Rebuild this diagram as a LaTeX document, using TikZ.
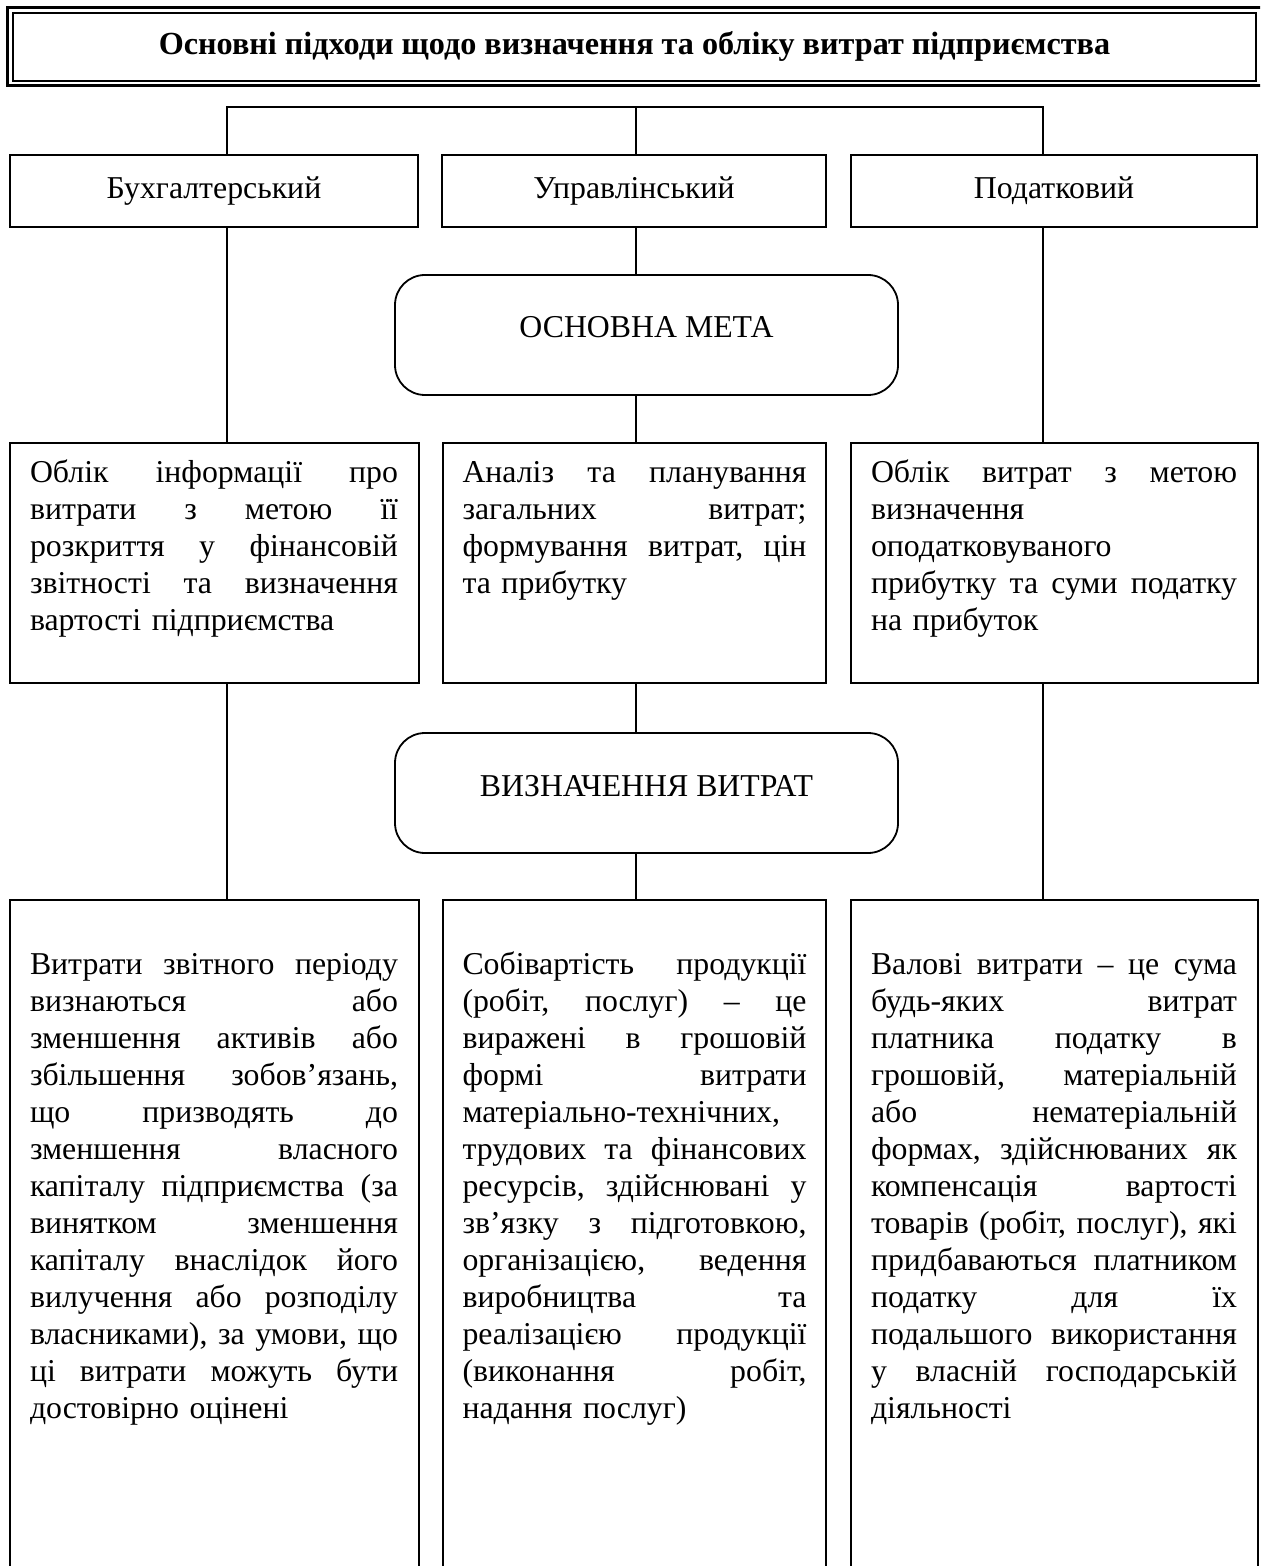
\documentclass[tikz,border=0pt]{standalone}
\usepackage{fontspec}
\setmainfont{Liberation Serif}
\frenchspacing
% one fully justified line of a paragraph: the interword glue is made stretchable
\newcommand{\jl}[1]{\leavevmode\hbox to \linewidth{\spaceskip=0.25em plus 10em minus 0.06em\relax #1}}
\begin{document}
\begin{tikzpicture}[x=0.5pt,y=-0.5pt,
  txt/.style={font=\fontsize{15.9}{18.5}\selectfont},
  box/.style={draw, line width=0.9pt, rectangle, inner sep=0pt, txt,
    text height=11pt, text depth=3.7pt},
  frame/.style={draw, line width=0.9pt, rectangle, inner sep=0pt},
  rbox/.style={draw, line width=0.9pt, rounded corners=15pt, inner sep=0pt,
    minimum width=251.5pt, minimum height=60pt},
  link/.style={line width=0.9pt},
  para/.style={txt, anchor=north west, inner sep=0pt, align=left},
  caption/.style={txt, anchor=base, inner sep=0pt},
]
\useasboundingbox (0,0) rectangle (1260,1566);
\clip (0,0) rectangle (1260,1566);

% title with a double frame
\node[draw, line width=1.5pt, minimum width=628pt, minimum height=39pt, inner sep=0pt]
  (titleframe) at (635,47) {};
\node[draw, line width=1pt, minimum width=621.5pt, minimum height=34pt, inner sep=0pt,
  font=\fontsize{16.1}{18}\selectfont\bfseries, text height=11pt, text depth=3.7pt]
  (title) at (634.5,47) {Основні підходи щодо визначення та обліку витрат підприємства};

% three approaches
\node[box, minimum width=204pt, minimum height=36pt] (b1) at (214,191) {Бухгалтерський};
\node[box, minimum width=192pt, minimum height=36pt] (b2) at (634,191) {Управлінський};
\node[box, minimum width=203pt, minimum height=36pt] (b3) at (1054,191) {Податковий};

% branching bus above the approaches
\coordinate (busL) at (227,107);
\coordinate (busM) at (636,107);
\coordinate (busR) at (1043,107);
\draw[link] (busL |- b1.north) -- (busL) -- (busR) -- (busR |- b3.north);
\draw[link] (busM) -- (busM |- b2.north);

% main aim
\node[rbox] (aim) at (646.5,335) {};
\node[caption] (aimt) at ([yshift=-1.5pt]aim.center) {ОСНОВНА МЕТА};

% aims of each approach
\node[frame, minimum width=204.5pt, minimum height=120pt] (m1) at (214.5,563) {};
\node[frame, minimum width=191.5pt, minimum height=120pt] (m2) at (634.5,563) {};
\node[frame, minimum width=203.5pt, minimum height=120pt] (m3) at (1054.5,563) {};

\node[para, text width=184pt] (m1t) at ([shift={(10.25pt,-7pt)}]m1.north west) {%
\jl{\strut Облік інформації про}\\
\jl{витрати з метою її}\\
\jl{розкриття у фінансовій}\\
\jl{звітності та визначення}\\
вартості підприємства};
\node[para, text width=172pt] (m2t) at ([shift={(10pt,-7pt)}]m2.north west) {%
\jl{\strut Аналіз та планування}\\
\jl{загальних витрат;}\\
\jl{формування витрат, цін}\\
та прибутку};
\node[para, text width=183pt] (m3t) at ([shift={(10.25pt,-7pt)}]m3.north west) {%
\jl{\strut Облік витрат з метою}\\
визначення\\
оподатковуваного\\
\jl{прибутку та суми податку}\\
на прибуток};

% definition of costs
\node[rbox] (def) at (646.5,793) {};
\node[caption] (deft) at ([yshift=-1.5pt]def.center) {ВИЗНАЧЕННЯ ВИТРАТ};

% definitions of each approach (boxes run past the lower edge)
\node[frame, minimum width=204.5pt, minimum height=360pt] (n1) at (214.5,1260) {};
\node[frame, minimum width=191.5pt, minimum height=360pt] (n2) at (634.5,1260) {};
\node[frame, minimum width=203.5pt, minimum height=360pt] (n3) at (1054.5,1260) {};

\node[para, text width=184pt] (n1t) at ([shift={(10.25pt,-24.5pt)}]n1.north west) {%
\jl{\strut Витрати звітного періоду}\\
\jl{визнаються або}\\
\jl{зменшення активів або}\\
\jl{збільшення зобов’язань,}\\
\jl{що призводять до}\\
\jl{зменшення власного}\\
\jl{капіталу підприємства (за}\\
\jl{винятком зменшення}\\
\jl{капіталу внаслідок його}\\
\jl{вилучення або розподілу}\\
\jl{власниками), за умови, що}\\
\jl{ці витрати можуть бути}\\
достовірно оцінені};
\node[para, text width=172pt] (n2t) at ([shift={(10pt,-24.5pt)}]n2.north west) {%
\jl{\strut Собівартість продукції}\\
\jl{(робіт, послуг) – це}\\
\jl{виражені в грошовій}\\
\jl{формі витрати}\\
матеріально-технічних,\\
\jl{трудових та фінансових}\\
\jl{ресурсів, здійснювані у}\\
\jl{зв’язку з підготовкою,}\\
\jl{організацією, ведення}\\
\jl{виробництва та}\\
\jl{реалізацією продукції}\\
\jl{(виконання робіт,}\\
надання послуг)};
\node[para, text width=183pt] (n3t) at ([shift={(10.25pt,-24.5pt)}]n3.north west) {%
\jl{\strut Валові витрати – це сума}\\
\jl{будь-яких витрат}\\
\jl{платника податку в}\\
\jl{грошовій, матеріальній}\\
\jl{або нематеріальній}\\
\jl{формах, здійснюваних як}\\
\jl{компенсація вартості}\\
\jl{товарів (робіт, послуг), які}\\
\jl{придбаваються платником}\\
\jl{податку для їх}\\
\jl{подальшого використання}\\
\jl{у власній господарській}\\
діяльності};

% connectors
\draw[link] (busL |- b1.south) -- (busL |- m1.north);
\draw[link] (busM |- b2.south) -- (busM |- aim.north);
\draw[link] (busM |- aim.south) -- (busM |- m2.north);
\draw[link] (busR |- b3.south) -- (busR |- m3.north);
\draw[link] (busL |- m1.south) -- (busL |- n1.north);
\draw[link] (busM |- m2.south) -- (busM |- def.north);
\draw[link] (busM |- def.south) -- (busM |- n2.north);
\draw[link] (busR |- m3.south) -- (busR |- n3.north);
\end{tikzpicture}
\end{document}
